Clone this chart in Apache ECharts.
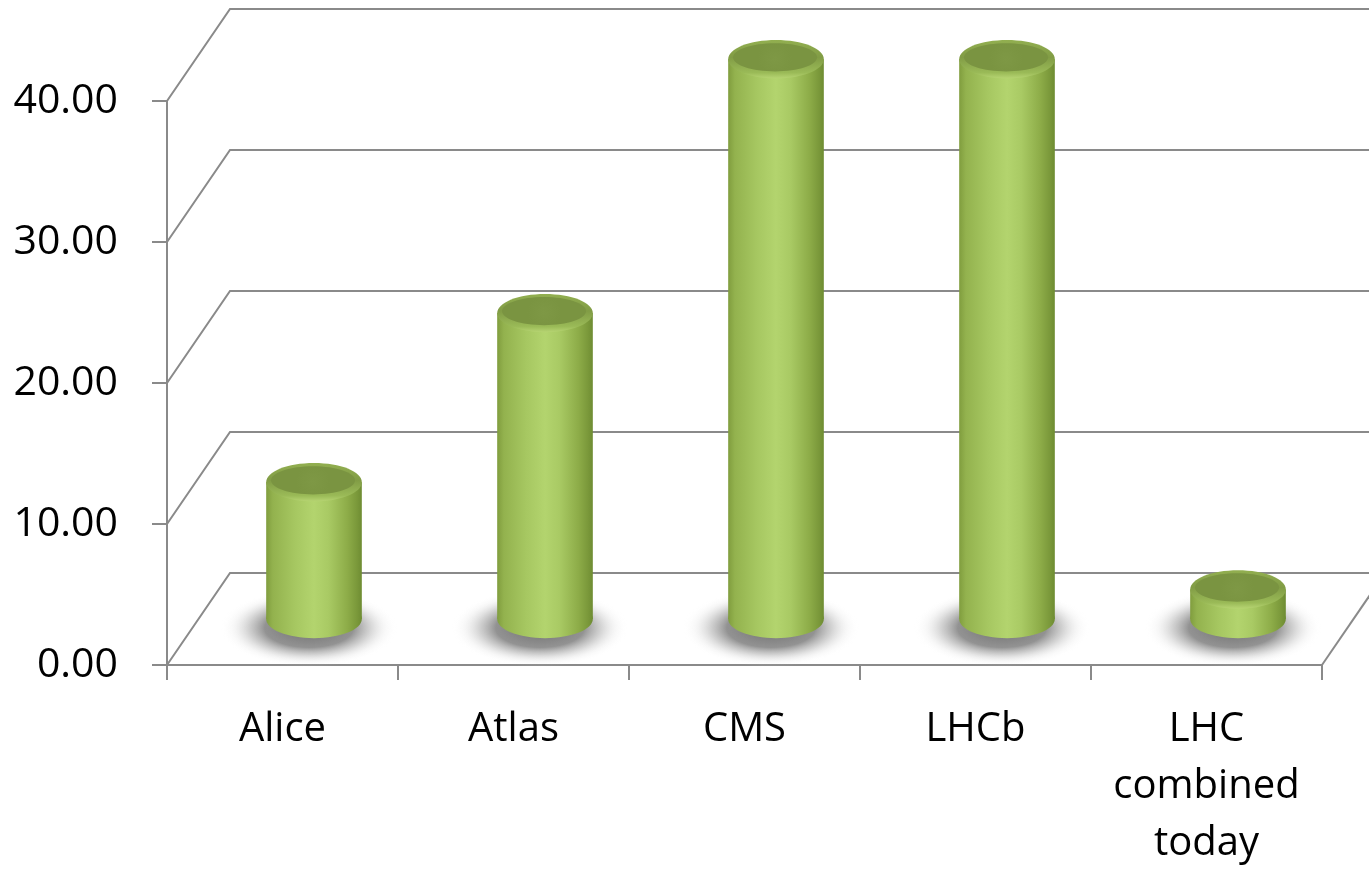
<!DOCTYPE html>
<html>
<head>
<meta charset="utf-8">
<script src="https://cdn.jsdelivr.net/npm/echarts@6/dist/echarts.min.js"></script>
<style>
html,body{margin:0;padding:0;background:#fff;}
#chart{width:1369px;height:872px;}
</style>
</head>
<body>
<div id="chart"></div>
<script>
const categories = ['Alice', 'Atlas', 'CMS', 'LHCb', 'LHC\ncombined\ntoday'];
const values = [9.7, 21.7, 39.7, 39.7, 2.1];
const yTicks = [0, 10, 20, 30, 40];

const DX = 63, DY = -92;          // depth offset of the back wall (style)
const LINE = '#8a8a8a';
const FONT = '"Open Sans", "Noto Sans", sans-serif';

const chart = echarts.init(document.getElementById('chart'));

const bodyGrad = () => new echarts.graphic.LinearGradient(0, 0, 1, 0, [
  {offset: 0, color: '#809d3e'},
  {offset: 0.07, color: '#93b24e'},
  {offset: 0.3, color: '#a6c761'},
  {offset: 0.5, color: '#b3d46e'},
  {offset: 0.65, color: '#a9ca64'},
  {offset: 0.85, color: '#8dac48'},
  {offset: 0.95, color: '#7a983a'},
  {offset: 1, color: '#6e8c32'}
]);

chart.setOption({
  animation: false,
  grid: {left: 167, right: 47, top: 101, bottom: 204, containLabel: false},
  xAxis: {
    type: 'category',
    data: categories,
    boundaryGap: true,
    axisLine: {show: true, lineStyle: {color: LINE, width: 2}},
    axisTick: {show: true, length: 15, lineStyle: {color: LINE, width: 2}},
    axisLabel: {color: '#000', fontFamily: FONT, fontSize: 40, lineHeight: 57, margin: 36, interval: 0},
    splitLine: {show: false}
  },
  yAxis: {
    type: 'value',
    min: 0, max: 40, interval: 10,
    axisLine: {show: true, lineStyle: {color: LINE, width: 2}},
    axisTick: {show: true, length: 15, lineStyle: {color: LINE, width: 2}},
    axisLabel: {color: '#000', fontFamily: FONT, fontSize: 41, margin: 49, padding: [10, 0, 0, 0],
      formatter: v => v.toFixed(2)},
    splitLine: {show: false}
  },
  series: [
    {
      type: 'custom',
      name: 'frame',
      z: 1,
      silent: true,
      data: yTicks.map(v => [0, v]),
      renderItem: function (params, api) {
        const cs = params.coordSys;
        const v = api.value(1);
        const y = api.coord([0, v])[1];
        const x0 = cs.x, x1 = cs.x + cs.width;
        const children = [{
          type: 'polyline',
          shape: {points: [[x0, y], [x0 + DX, y + DY], [x1 + DX, y + DY]]},
          style: {stroke: LINE, lineWidth: 2, fill: null}
        }];
        if (v === 0) {
          children.push({
            type: 'line',
            shape: {x1: x1, y1: y, x2: x1 + DX, y2: y + DY},
            style: {stroke: LINE, lineWidth: 2}
          });
        }
        return {type: 'group', children: children};
      }
    },
    {
      type: 'custom',
      name: 'cylinders',
      z: 3,
      data: values.map((v, i) => [i, v]),
      renderItem: function (params, api) {
        const i = api.value(0), v = api.value(1);
        const base = api.coord([i, 0]);
        const top = api.coord([i, v]);
        const bw = api.size([1, 0])[0];
        const rx = bw * 0.207, ry = rx * 0.4;
        const cx = base[0] + DX / 2;
        const by = base[1] + DY / 2;
        const ty = top[1] + DY / 2;
        const R = rx * 1.85;
        return {
          type: 'group',
          children: [
            {
              type: 'circle',
              x: cx - 5, y: by + 9, scaleY: 0.44,
              shape: {cx: 0, cy: 0, r: R},
              style: {fill: new echarts.graphic.RadialGradient(0.5, 0.5, 0.5, [
                {offset: 0, color: 'rgba(95,95,95,0.9)'},
                {offset: 0.5, color: 'rgba(110,110,110,0.75)'},
                {offset: 0.68, color: 'rgba(145,145,145,0.42)'},
                {offset: 0.85, color: 'rgba(200,200,200,0.15)'},
                {offset: 1, color: 'rgba(255,255,255,0)'}
              ])}
            },
            {
              type: 'rect',
              shape: {x: cx - rx, y: ty, width: 2 * rx, height: Math.max(0, by - ty)},
              style: {fill: bodyGrad()}
            },
            {
              type: 'ellipse',
              shape: {cx: cx, cy: by, rx: rx, ry: ry},
              style: {fill: bodyGrad()}
            },
            {
              type: 'ellipse',
              shape: {cx: cx, cy: ty, rx: rx, ry: ry},
              style: {fill: new echarts.graphic.LinearGradient(0, 0, 0, 1, [
                {offset: 0, color: '#92af50'},
                {offset: 0.45, color: '#819c45'},
                {offset: 0.85, color: '#9aba57'},
                {offset: 1, color: '#b6d472'}
              ])}
            },
            {
              type: 'ellipse',
              shape: {cx: cx - rx * 0.02, cy: ty - ry * 0.1, rx: rx * 0.88, ry: ry * 0.74},
              style: {fill: new echarts.graphic.RadialGradient(0.5, 0.55, 0.6, [
                {offset: 0, color: '#7e9845'},
                {offset: 1, color: '#7a9441'}
              ])}
            }
          ]
        };
      }
    }
  ]
});
</script>
</body>
</html>
